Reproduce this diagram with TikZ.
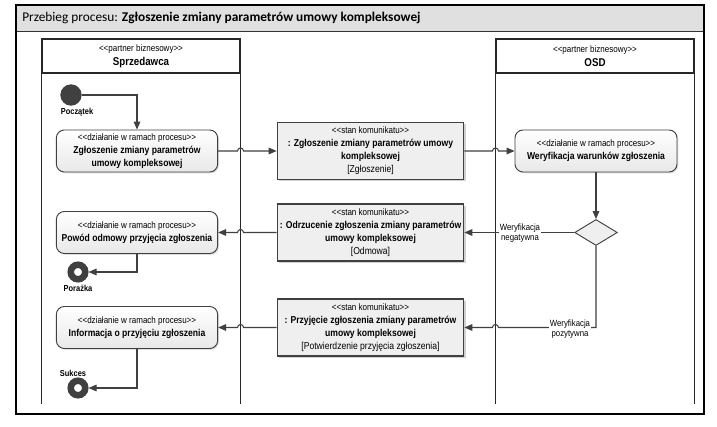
\documentclass[tikz,border=0pt]{standalone}
\usepackage{fontspec}
\setmainfont{Liberation Sans}[FakeStretch=0.86]
\newfontfamily\titlefont{Carlito}
\usetikzlibrary{shapes.geometric,shadows,arrows.meta,calc}
\definecolor{ln}{HTML}{404040}
\definecolor{boxfill}{HTML}{EFEFEF}
\definecolor{titlefill}{HTML}{E0E0E0}
\newcommand{\ster}[1]{{\fontsize{7}{9.75}\selectfont\mdseries {<}{<}#1{>}{>}}}
\begin{document}
\begin{tikzpicture}[x=0.75pt,y=-0.75pt,
  conn/.style={draw=ln, line width=0.8pt, -{Triangle[length=6pt,width=5pt]}},
  action/.style={draw=ln, line width=0.7pt, rounded corners=6pt, top color=white, bottom color=black!9,
    minimum width=121pt, minimum height=31.5pt, align=center, inner sep=1pt,
    font=\fontsize{7.5}{9.75}\selectfont\bfseries,
    drop shadow={shadow xshift=1pt, shadow yshift=-1pt, opacity=0.25}},
  msg/.style={draw=ln, line width=0.8pt, fill=boxfill, minimum width=140pt, minimum height=42.75pt,
    align=center, inner sep=1pt, font=\fontsize{7.5}{9.75}\selectfont,
    drop shadow={shadow xshift=1.3pt, shadow yshift=-1.3pt, opacity=0.35}},
  hdr/.style={draw=black!85, line width=0.8pt, minimum width=148.5pt, minimum height=25.5pt,
    align=center, inner sep=0pt, font=\fontsize{8.5}{10.5}\selectfont\bfseries},
  lane/.style={draw=black!85, line width=0.8pt},
  small/.style={font=\fontsize{6.8}{7.8}\selectfont, inner sep=1pt, align=center},
  smallb/.style={font=\fontsize{6.5}{7.5}\selectfont\bfseries, inner sep=1pt},
  endnode/.style={circle, draw=ln, line width=4.9pt, fill=white, minimum size=10.9pt, inner sep=0pt}
]
\useasboundingbox (0,0) rectangle (717,427);
\fill[white] (0,0) rectangle (717,427);
% frame and title
\fill[titlefill] (16,5) rectangle (704,31);
\draw[black!80, line width=0.7pt] (16,31) -- (704,31);
\draw[black, line width=1.1pt] (16,5) rectangle (704,414);
\node[anchor=west, inner sep=0pt, font=\titlefont\fontsize{10}{12}\selectfont] (title) at (22,18)
  {Przebieg procesu: \textbf{Zgłoszenie zmiany parametrów umowy kompleksowej}};
% lanes
\node[hdr] (h1) at (141,56) {\ster{partner biznesowy}\\Sprzedawca};
\node[hdr] (h2) at (595,56) {\ster{partner biznesowy}\\OSD};
\draw[lane] (h1.south west) -- ++(0,330);
\draw[lane] (h1.south east) -- ++(0,330);
\draw[lane] (h2.south west) -- ++(0,330);
\draw[lane] (h2.south east) -- ++(0,330);
\coordinate (L1) at (h1.south east);
\coordinate (L2) at (h2.south west);
% nodes
\node[circle, fill=ln, minimum size=16pt, inner sep=0pt] (start) at (71,95) {};
\node[smallb] (startl) at (77,112) {Początek};
\node[action] (a1) at (137,151) {\ster{działanie w ramach procesu}\\Zgłoszenie zmiany parametrów\\umowy kompleksowej};
\node[action] (a2) at (137,232.5) {\ster{działanie w ramach procesu}\\Powód odmowy przyjęcia zgłoszenia};
\node[action] (a3) at (137,327.5) {\ster{działanie w ramach procesu}\\Informacja o przyjęciu zgłoszenia};
\node[action, minimum width=121.5pt] (a4) at (596,151) {\ster{działanie w ramach procesu}\\Weryfikacja warunków zgłoszenia};
\node[msg] (m1) at (370.5,151) {\ster{stan komunikatu}\\\textbf{: Zgłoszenie zmiany parametrów umowy}\\\textbf{kompleksowej}\\{[}Zgłoszenie{]}};
\node[msg] (m2) at (370.5,232.5) {\ster{stan komunikatu}\\\textbf{: Odrzucenie zgłoszenia zmiany parametrów}\\\textbf{umowy kompleksowej}\\{[}Odmowa{]}};
\node[msg] (m3) at (370.5,327.5) {\ster{stan komunikatu}\\\textbf{: Przyjęcie zgłoszenia zmiany parametrów}\\\textbf{umowy kompleksowej}\\{[}Potwierdzenie przyjęcia zgłoszenia{]}};
\node[diamond, draw=ln, line width=0.7pt, fill=boxfill, minimum width=32pt, minimum height=19.5pt, inner sep=0pt] (d) at (596,232.5) {};
\node[endnode] (e1) at (78,272) {};
\node[smallb] (e1l) at (78,288) {Porażka};
\node[endnode] (e2) at (78,388) {};
\node[smallb] (e2l) at (73,373) {Sukces};
% connectors
\draw[conn] (start.east) -| (a1.north);
\draw[conn] (a1.east) -- ($(L1 |- a1.east)+(-3,0)$) arc[start angle=180, end angle=0, radius=2.25pt] -- (m1.west);
\draw[conn] (m1.east) -- ($(L2 |- m1.east)+(-3,0)$) arc[start angle=180, end angle=0, radius=2.25pt] -- (a4.west);
\draw[conn] (a4.south) -- (d.north);
\draw[conn] (d.west) -- (m2.east);
\draw[conn] (d.south) -- (d.south |- m3.east) -- ($(L2 |- m3.east)+(3,0)$) arc[start angle=0, end angle=180, radius=2.25pt] -- (m3.east);
\draw[conn] (m2.west) -- ($(L1 |- m2.west)+(3,0)$) arc[start angle=0, end angle=180, radius=2.25pt] -- (a2.east);
\draw[conn] (m3.west) -- ($(L1 |- m3.west)+(3,0)$) arc[start angle=0, end angle=180, radius=2.25pt] -- (a3.east);
\draw[conn] (a2.south) |- (e1.east);
\draw[conn] (a3.south) |- (e2.east);
% guard labels
\node[small, fill=white] (g1) at (520,233) {Weryfikacja\\negatywna};
\node[small, fill=white] (g2) at (570,329) {Weryfikacja\\pozytywna};
\end{tikzpicture}
\end{document}
